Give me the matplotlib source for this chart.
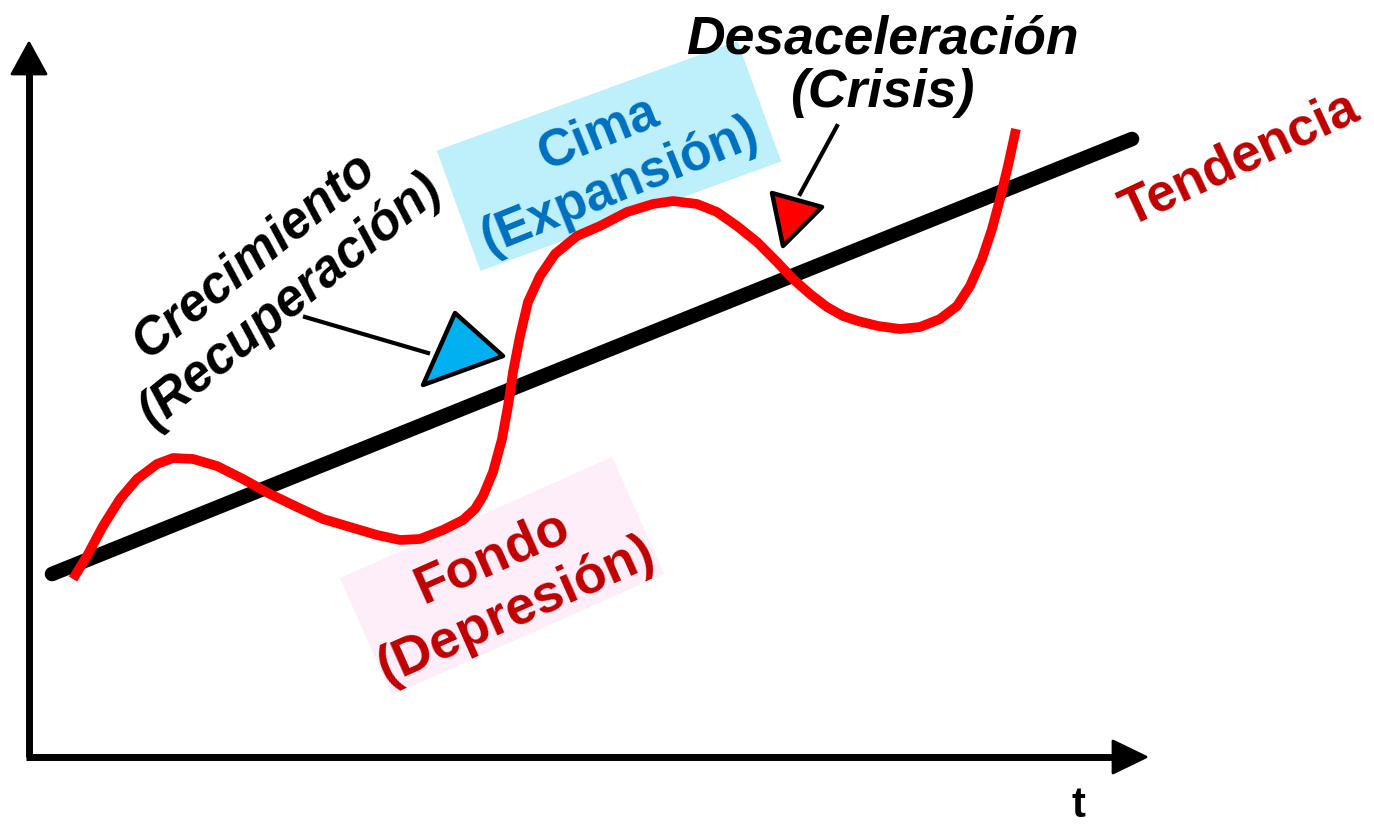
import matplotlib
matplotlib.use("Agg")
import matplotlib.pyplot as plt
from matplotlib.patches import Polygon, Rectangle

# ---- data (diagram units: x to the right, y downward, canvas 1374 x 829) ----
cycle_x = [73, 87, 103, 120, 137, 157, 173, 193, 217, 243, 270, 297, 323, 350, 377,
           400, 420, 443, 463, 475, 483, 493, 502, 508, 513, 520, 528, 540, 555, 577,
           600, 627, 653, 673, 697, 717, 737, 757, 777, 793, 810, 827, 843, 858, 878,
           900, 920, 940, 957, 970, 982, 992, 1000, 1008, 1016]
cycle_y = [580, 557, 527, 500, 480, 465, 459, 460, 467, 480, 495, 508, 520, 528, 536,
           541, 540, 531, 521, 510, 497, 473, 440, 407, 373, 337, 303, 277, 255, 237,
           227, 213, 205, 202, 205, 213, 227, 243, 263, 280, 295, 308, 317, 322, 327,
           330, 328, 320, 307, 287, 260, 230, 200, 167, 130]
trend_x = [52, 1132]
trend_y = [575, 140]

labels = {
    "crec": "Crecimiento\n(Recuperación)",
    "cima": "Cima\n(Expansión)",
    "desa": "Desaceleración\n(Crisis)",
    "tend": "Tendencia",
    "fondo": "Fondo\n(Depresión)",
    "t": "t",
}

FONT = "Liberation Sans"
BLACK = "#000000"
RED = "#FF0000"
DARKRED = "#C00000"
BLUE = "#0070C0"

fig = plt.figure(figsize=(13.74, 8.29), dpi=100)
ax = fig.add_axes([0, 0, 1, 1])
ax.set_xlim(0, 1374)
ax.set_ylim(829, 0)
ax.axis("off")

# background label boxes (negative angle -> visually counter-clockwise with inverted y)
def rbox(cx, cy, w, h, ang, color):
    r = Rectangle((cx - w / 2, cy - h / 2), w, h, angle=-ang, rotation_point="center",
                  facecolor=color, edgecolor="none", zorder=1)
    ax.add_patch(r)

rbox(609, 157, 320, 128, 20, "#BDF0FA")
rbox(502, 577, 298, 128, 24, "#FDEEF9")

# axes arrows
ax.plot([29, 29], [758, 70], color=BLACK, lw=5, solid_capstyle="butt", zorder=3)
ax.add_patch(Polygon([[29, 44], [12, 75], [46, 75]], closed=True, facecolor=BLACK,
                     edgecolor=BLACK, lw=2, joinstyle="round", zorder=3))
ax.plot([26, 1115], [758, 758], color=BLACK, lw=5, solid_capstyle="butt", zorder=3)
ax.add_patch(Polygon([[1146, 758], [1113, 742], [1113, 774]], closed=True, facecolor=BLACK,
                     edgecolor=BLACK, lw=2, joinstyle="round", zorder=3))

# trend line
ax.plot(trend_x, trend_y, color=BLACK, lw=10.5, solid_capstyle="round", zorder=4)
# cycle curve
ax.plot(cycle_x, cycle_y, color=RED, lw=7, solid_joinstyle="round",
        solid_capstyle="butt", zorder=5)

# pointer lines and triangles
ax.plot([305, 428], [318, 354], color=BLACK, lw=3, zorder=6)
ax.add_patch(Polygon([[455, 314], [503, 357], [423, 386]], closed=True, facecolor="#00B0F0",
                     edgecolor=BLACK, lw=3.2, joinstyle="round", zorder=7))
ax.plot([837, 800], [127, 195], color=BLACK, lw=3, zorder=6)
ax.add_patch(Polygon([[772, 194], [822, 208], [783, 247]], closed=True, facecolor=RED,
                     edgecolor=BLACK, lw=3.2, joinstyle="round", zorder=7))

# texts
def label(x, y, s, color, rot, size, italic=False, ls=1.15):
    ax.text(x, y, s, color=color, rotation=rot, rotation_mode="anchor", ha="center",
            va="center", multialignment="center", fontsize=size, fontweight="bold",
            fontstyle="italic" if italic else "normal", family=FONT, linespacing=ls,
            zorder=8)

label(272, 278, labels["crec"], BLACK, 39, 37, italic=True, ls=1.25)
label(609, 160, labels["cima"], BLUE, 22, 37, ls=1.2)
label(882, 66, labels["desa"], BLACK, 0, 38.5, italic=True, ls=1.1)
label(1240, 160, labels["tend"], DARKRED, 25, 38)
label(504, 584, labels["fondo"], DARKRED, 24, 38.5, ls=1.2)
label(1078, 806, labels["t"], BLACK, 0, 30)

fig.savefig("out.png", dpi=100, facecolor="white")
